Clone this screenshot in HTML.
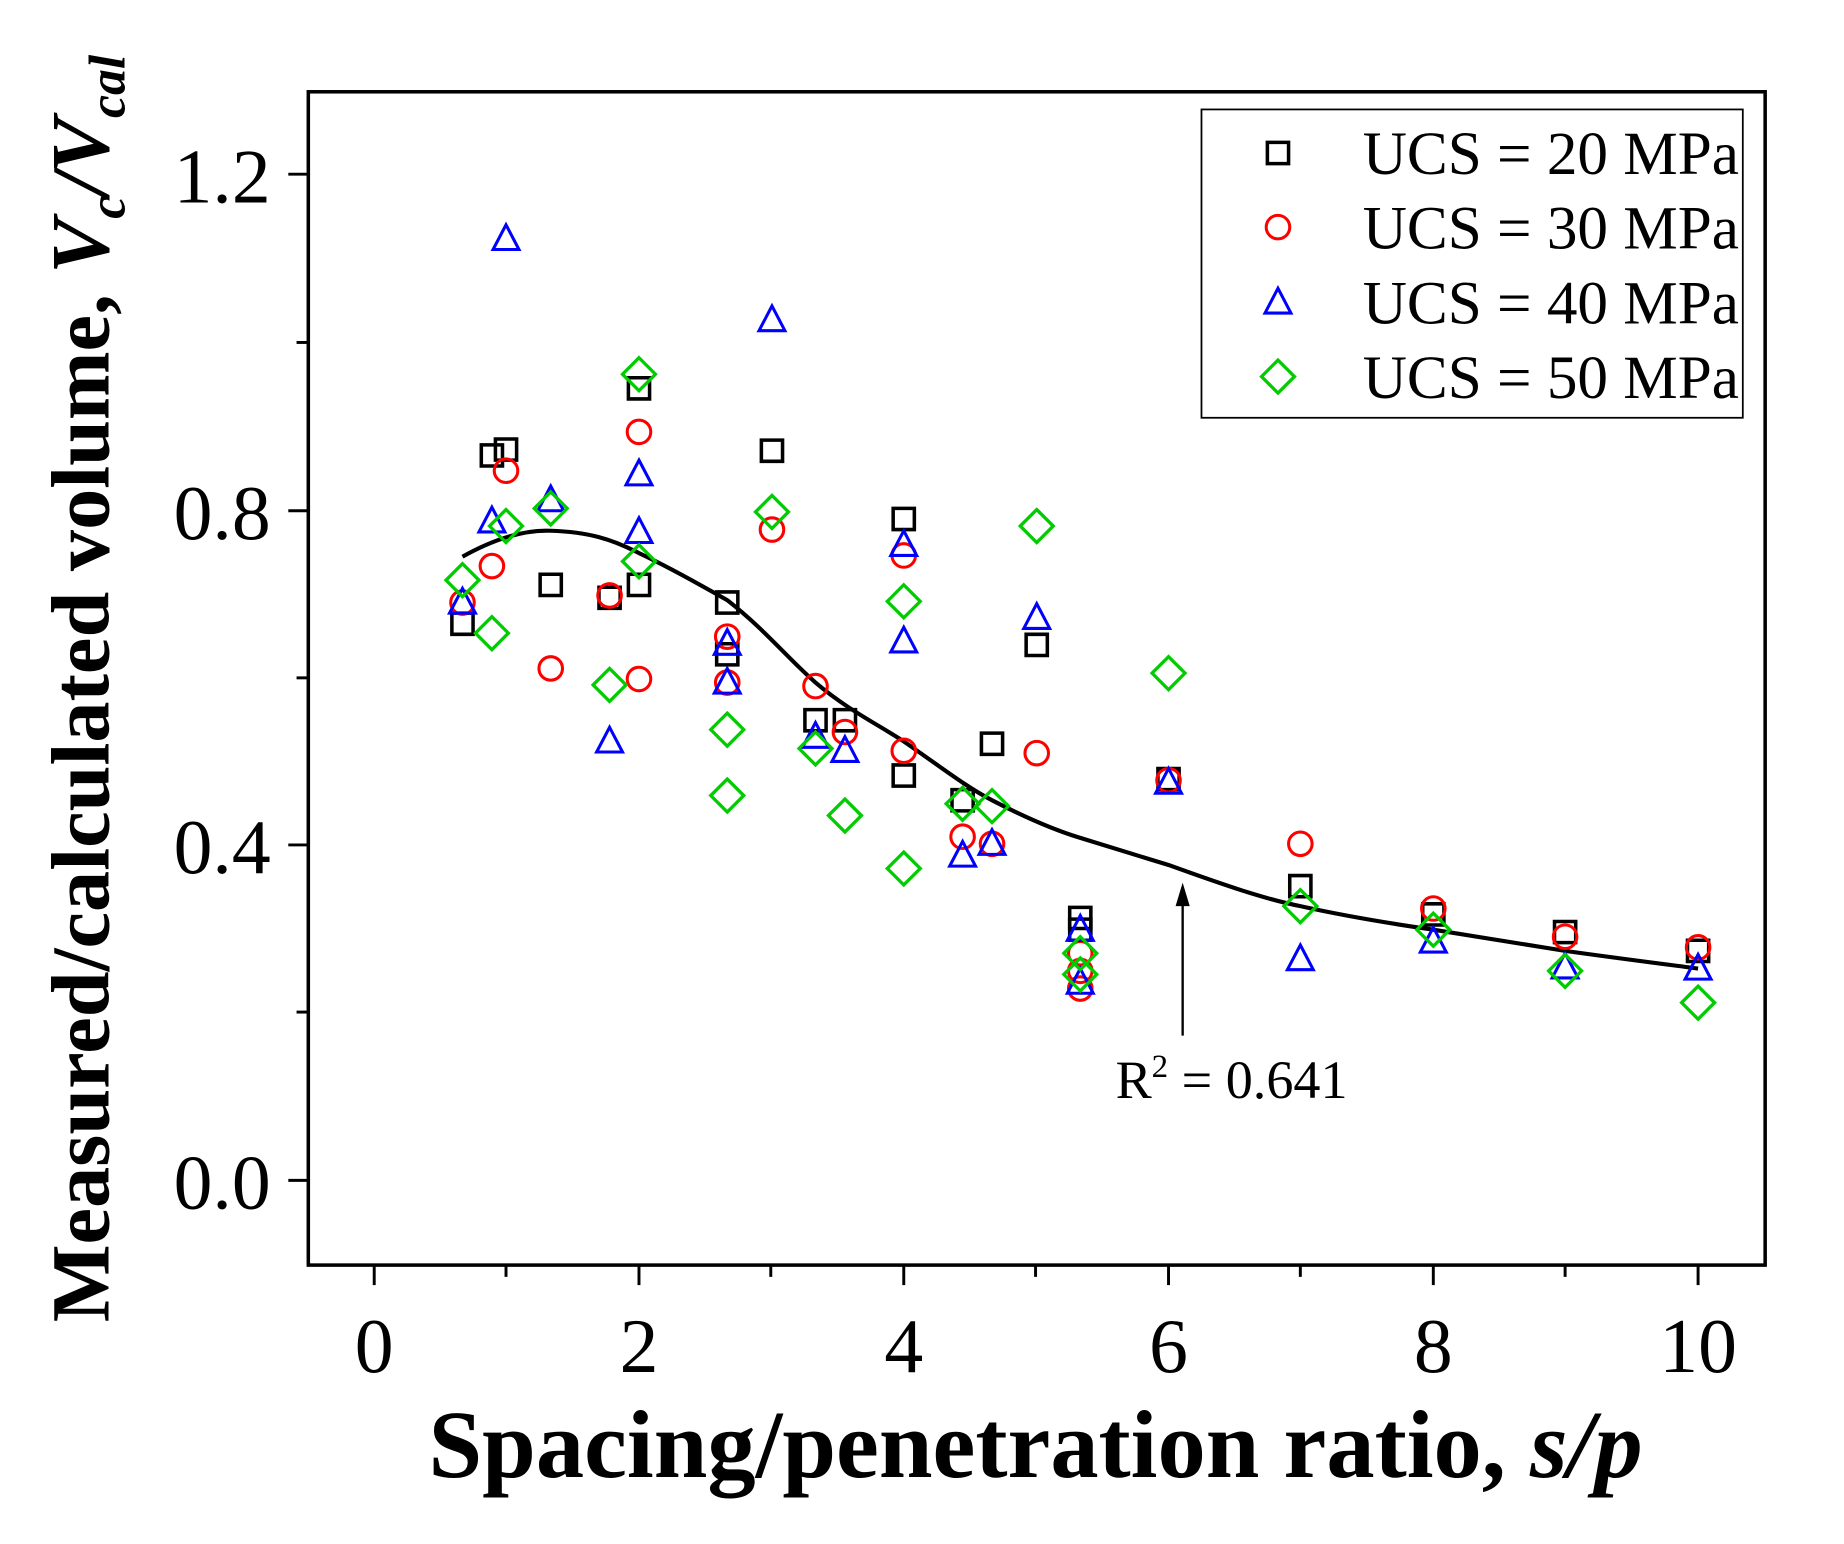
<!DOCTYPE html>
<html><head><meta charset="utf-8"><style>html,body{margin:0;padding:0;background:#fff}svg{display:block}</style></head>
<body>
<svg width="1844" height="1544" viewBox="0 0 1567 1312" preserveAspectRatio="none" xmlns="http://www.w3.org/2000/svg" font-family="'Liberation Serif',serif">
<defs>
<path id="sq" d="M-9,-9h18v18h-18z" fill="none" stroke="#000" stroke-width="3"/>
<circle id="ci" r="10" fill="none" stroke="#f00" stroke-width="2.6"/>
<path id="tr" d="M0,-12L11,9H-11Z" fill="none" stroke="#00f" stroke-width="2.6"/>
<path id="di" d="M0,-14L14,0L0,14L-14,0Z" fill="none" stroke="#0c0" stroke-width="2.8"/>
</defs>
<rect x="262" y="78" width="1238" height="997" fill="none" stroke="#000" stroke-width="3"/>
<g stroke="#000" stroke-width="2.5">
<line x1="318" y1="1075" x2="318" y2="1092"/><line x1="543" y1="1075" x2="543" y2="1092"/><line x1="768" y1="1075" x2="768" y2="1092"/><line x1="993" y1="1075" x2="993" y2="1092"/><line x1="1218" y1="1075" x2="1218" y2="1092"/><line x1="1443" y1="1075" x2="1443" y2="1092"/>
<line x1="430" y1="1075" x2="430" y2="1085"/><line x1="655" y1="1075" x2="655" y2="1085"/><line x1="880" y1="1075" x2="880" y2="1085"/><line x1="1105" y1="1075" x2="1105" y2="1085"/><line x1="1330" y1="1075" x2="1330" y2="1085"/>
<line x1="245" y1="148" x2="262" y2="148"/><line x1="245" y1="434" x2="262" y2="434"/><line x1="245" y1="718" x2="262" y2="718"/><line x1="245" y1="1003" x2="262" y2="1003"/>
<line x1="252" y1="291" x2="262" y2="291"/><line x1="252" y1="576" x2="262" y2="576"/><line x1="252" y1="860" x2="262" y2="860"/>
</g>
<g font-size="66" text-anchor="end">
<text x="230" y="172">1.2</text><text x="230" y="458">0.8</text><text x="230" y="742">0.4</text><text x="230" y="1027">0.0</text>
</g>
<g font-size="66" text-anchor="middle">
<text x="318" y="1166">0</text><text x="543" y="1166">2</text><text x="768" y="1166">4</text><text x="993" y="1166">6</text><text x="1218" y="1166">8</text><text x="1443" y="1166">10</text>
</g>
<text x="880" y="1255" font-size="82" font-weight="bold" text-anchor="middle">Spacing/penetration ratio, <tspan font-style="italic">s/p</tspan></text>
<text transform="translate(92,585) rotate(-90)" font-size="70" font-weight="bold" text-anchor="middle">Measured/calculated volume, <tspan font-style="italic">V</tspan><tspan font-style="italic" font-size="44" dy="14">c</tspan><tspan font-style="italic" dy="-14">/V</tspan><tspan font-style="italic" font-size="44" dy="14">cal</tspan></text>
<path d="M393,473 C420,458 445,450 468,451 C500,452 520,458 543,470 C575,485 600,500 618,510 C650,535 670,560 693,580 C720,603 745,615 768,630 C800,652 820,668 843,680 C870,694 895,705 918,712 C950,722 970,728 993,735 C1040,752 1075,764 1105,770 C1150,780 1190,786 1218,790 C1260,797 1300,803 1330,808 C1380,815 1420,820 1443,823" fill="none" stroke="#000" stroke-width="3.5"/>
<line x1="1005" y1="880" x2="1005" y2="765" stroke="#000" stroke-width="2"/>
<path d="M1005,750 L999,770 L1011,770 Z" fill="#000"/>
<text x="948" y="933" font-size="46">R<tspan font-size="28" dy="-18">2</tspan><tspan dy="18"> = 0.641</tspan></text>
<g>
<use href="#sq" x="393" y="530"/><use href="#sq" x="418" y="387"/><use href="#sq" x="430" y="382"/><use href="#sq" x="468" y="497"/><use href="#sq" x="518" y="508"/><use href="#sq" x="543" y="330"/><use href="#sq" x="543" y="497"/><use href="#sq" x="618" y="512"/><use href="#sq" x="618" y="556"/><use href="#sq" x="656" y="383"/><use href="#sq" x="693" y="612"/><use href="#sq" x="718" y="612"/><use href="#sq" x="768" y="441"/><use href="#sq" x="768" y="659"/><use href="#sq" x="818" y="680"/><use href="#sq" x="843" y="632"/><use href="#sq" x="881" y="548"/><use href="#sq" x="918" y="780"/><use href="#sq" x="918" y="790"/><use href="#sq" x="993" y="662"/><use href="#sq" x="1105" y="753"/><use href="#sq" x="1218" y="777"/><use href="#sq" x="1330" y="792"/><use href="#sq" x="1443" y="808"/>
<use href="#ci" x="393" y="512"/><use href="#ci" x="418" y="481"/><use href="#ci" x="430" y="400"/><use href="#ci" x="468" y="568"/><use href="#ci" x="518" y="506"/><use href="#ci" x="543" y="367"/><use href="#ci" x="543" y="577"/><use href="#ci" x="618" y="541"/><use href="#ci" x="618" y="580"/><use href="#ci" x="656" y="450"/><use href="#ci" x="693" y="583"/><use href="#ci" x="718" y="622"/><use href="#ci" x="768" y="472"/><use href="#ci" x="768" y="638"/><use href="#ci" x="818" y="711"/><use href="#ci" x="843" y="717"/><use href="#ci" x="881" y="640"/><use href="#ci" x="918" y="810"/><use href="#ci" x="918" y="825"/><use href="#ci" x="918" y="840"/><use href="#ci" x="993" y="663"/><use href="#ci" x="1105" y="717"/><use href="#ci" x="1218" y="772"/><use href="#ci" x="1330" y="796"/><use href="#ci" x="1443" y="805"/>
<use href="#tr" x="393" y="512"/><use href="#tr" x="418" y="443"/><use href="#tr" x="430" y="203"/><use href="#tr" x="468" y="425"/><use href="#tr" x="518" y="630"/><use href="#tr" x="543" y="403"/><use href="#tr" x="543" y="452"/><use href="#tr" x="618" y="547"/><use href="#tr" x="618" y="580"/><use href="#tr" x="656" y="272"/><use href="#tr" x="693" y="626"/><use href="#tr" x="718" y="638"/><use href="#tr" x="768" y="463"/><use href="#tr" x="768" y="545"/><use href="#tr" x="818" y="727"/><use href="#tr" x="843" y="717"/><use href="#tr" x="881" y="525"/><use href="#tr" x="918" y="790"/><use href="#tr" x="918" y="835"/><use href="#tr" x="993" y="665"/><use href="#tr" x="1105" y="815"/><use href="#tr" x="1218" y="800"/><use href="#tr" x="1330" y="822"/><use href="#tr" x="1443" y="823"/>
<use href="#di" x="393" y="493"/><use href="#di" x="418" y="538"/><use href="#di" x="430" y="447"/><use href="#di" x="468" y="432"/><use href="#di" x="518" y="582"/><use href="#di" x="543" y="318"/><use href="#di" x="543" y="477"/><use href="#di" x="618" y="620"/><use href="#di" x="618" y="676"/><use href="#di" x="656" y="435"/><use href="#di" x="693" y="636"/><use href="#di" x="718" y="693"/><use href="#di" x="768" y="511"/><use href="#di" x="768" y="738"/><use href="#di" x="818" y="683"/><use href="#di" x="843" y="685"/><use href="#di" x="881" y="447"/><use href="#di" x="918" y="810"/><use href="#di" x="918" y="828"/><use href="#di" x="993" y="572"/><use href="#di" x="1105" y="770"/><use href="#di" x="1218" y="790"/><use href="#di" x="1330" y="825"/><use href="#di" x="1443" y="852"/>
</g>
<rect x="1021" y="93" width="460" height="262" fill="#fff" stroke="#000" stroke-width="1.5"/>
<use href="#sq" x="1086" y="130"/><use href="#ci" x="1086" y="193"/><use href="#tr" x="1086" y="257"/><use href="#di" x="1086" y="320"/>
<g font-size="52">
<text x="1158" y="148">UCS = 20 MPa</text><text x="1158" y="211">UCS = 30 MPa</text><text x="1158" y="275">UCS = 40 MPa</text><text x="1158" y="338">UCS = 50 MPa</text>
</g>
</svg>
</body></html>
